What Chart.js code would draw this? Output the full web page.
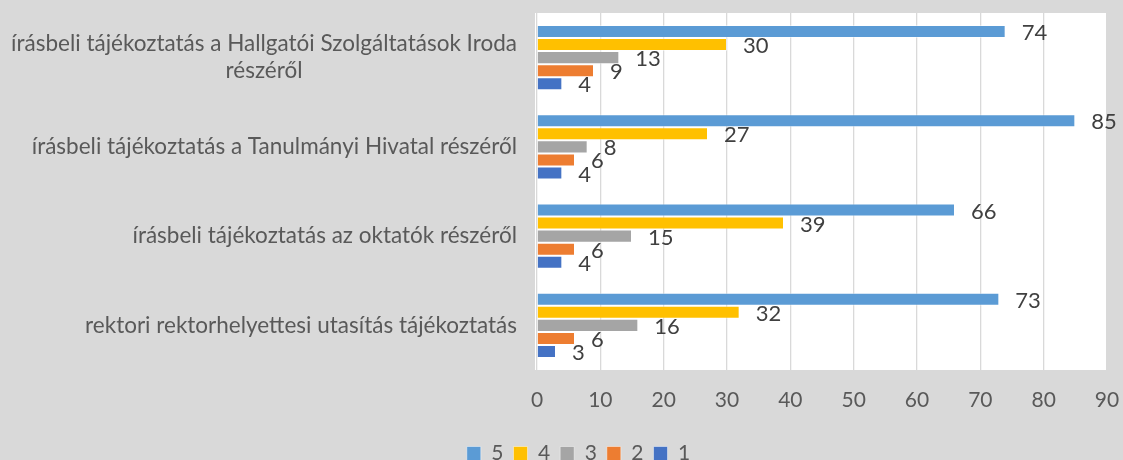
<!DOCTYPE html>
<html>
<head>
<meta charset="utf-8">
<script src="https://cdn.jsdelivr.net/npm/chart.js@4"></script>
<style>
  html, body { margin: 0; padding: 0; background: #D9D9D9; }
  #wrap { width: 1123px; height: 460px; position: relative; }
</style>
</head>
<body>
<div id="wrap"><canvas id="barChart"></canvas></div>
<script>
const categories = [
    ['írásbeli tájékoztatás a Hallgatói Szolgáltatások Iroda', 'részéről'],
    ['írásbeli tájékoztatás a Tanulmányi Hivatal részéről'],
    ['írásbeli tájékoztatás az oktatók részéről'],
    ['rektori rektorhelyettesi utasítás tájékoztatás']
];
const seriesNames = ['5', '4', '3', '2', '1'];
const values5 = [74, 85, 66, 73];
const values4 = [30, 27, 39, 32];
const values3 = [13, 8, 15, 16];
const values2 = [9, 6, 6, 6];
const values1 = [4, 4, 4, 3];
const xTicks = [0, 10, 20, 30, 40, 50, 60, 70, 80, 90];

const colors = ['#5B9BD5', '#FFC000', '#A5A5A5', '#ED7D31', '#4472C4'];
const FONT = 'Lato, "Noto Sans", sans-serif';

// white plot area on the grey chart background
const plotBg = {
    id: 'plotBg',
    beforeDraw(chart) {
        const { ctx, chartArea: a } = chart;
        ctx.save();
        ctx.fillStyle = '#D9D9D9';
        ctx.fillRect(0, 0, chart.width, chart.height);
        ctx.fillStyle = '#FFFFFF';
        ctx.fillRect(a.left - 2, a.top, a.right - a.left + 2, a.bottom - a.top);
        ctx.restore();
    }
};

// category labels: right aligned block, lines centred inside it
const catLabels = {
    id: 'catLabels',
    afterDraw(chart) {
        const { ctx } = chart;
        const y = chart.scales.y;
        ctx.save();
        ctx.font = '22.5px ' + FONT;
        ctx.fillStyle = '#595959';
        ctx.textBaseline = 'middle';
        ctx.textAlign = 'center';
        const right = chart.chartArea.left - 20;
        const lh = 27;
        categories.forEach((lines, i) => {
            const cy = y.getPixelForValue(i);
            const w = Math.max(...lines.map(l => ctx.measureText(l).width));
            lines.forEach((l, j) => {
                ctx.fillText(l, right - w / 2, cy + (j - (lines.length - 1) / 2) * lh);
            });
        });
        ctx.restore();
    }
};

// value labels after the bar end
const valueLabels = {
    id: 'valueLabels',
    afterDatasetsDraw(chart) {
        const { ctx } = chart;
        ctx.save();
        ctx.font = '22px ' + FONT;
        ctx.fillStyle = '#404040';
        ctx.textBaseline = 'middle';
        ctx.textAlign = 'left';
        chart.data.datasets.forEach((ds, di) => {
            chart.getDatasetMeta(di).data.forEach((bar, i) => {
                ctx.fillText(ds.data[i], bar.x + 16, bar.y + 1.5);
            });
        });
        ctx.restore();
    }
};

// nudge the legend row a little to the right, as in the original
const legendShift = {
    id: 'legendShift',
    afterLayout(chart) {
        chart.legend.left += 25;
        chart.legend.right += 25;
    }
};

const allValues = [values5, values4, values3, values2, values1];

new Chart(document.getElementById('barChart'), {
    type: 'bar',
    data: {
        labels: categories,
        datasets: allValues.map((v, i) => ({
            label: seriesNames[i],
            data: v,
            backgroundColor: colors[i],
            borderColor: 'rgba(255,255,255,0.45)',
            borderWidth: 1,
            categoryPercentage: 0.73,
            barPercentage: 1.0
        }))
    },
    options: {
        indexAxis: 'y',
        responsive: true,
        maintainAspectRatio: false,
        animation: false,
        layout: { padding: { left: 0, right: 16, top: 13, bottom: -14 } },
        plugins: {
            legend: {
                position: 'bottom',
                labels: {
                    boxWidth: 14,
                    boxHeight: 14,
                    padding: 10,
                    color: '#595959',
                    font: { family: FONT, size: 21 }
                }
            },
            tooltip: { enabled: false }
        },
        scales: {
            x: {
                min: 0,
                max: 90,
                afterBuildTicks: s => { s.ticks = xTicks.map(v => ({ value: v })); },
                afterFit: s => { s.height = 63; s.paddingLeft = 0; s.paddingRight = 0; },
                border: { display: false },
                grid: { color: '#D9D9D9', lineWidth: 1.3, drawTicks: false },
                ticks: {
                    padding: 18,
                    color: '#595959',
                    font: { family: FONT, size: 21 }
                }
            },
            y: {
                afterFit: s => { s.width = 537; },
                border: { display: false },
                grid: { display: false },
                ticks: { display: false }
            }
        }
    },
    plugins: [plotBg, catLabels, valueLabels, legendShift]
});
</script>
</body>
</html>
